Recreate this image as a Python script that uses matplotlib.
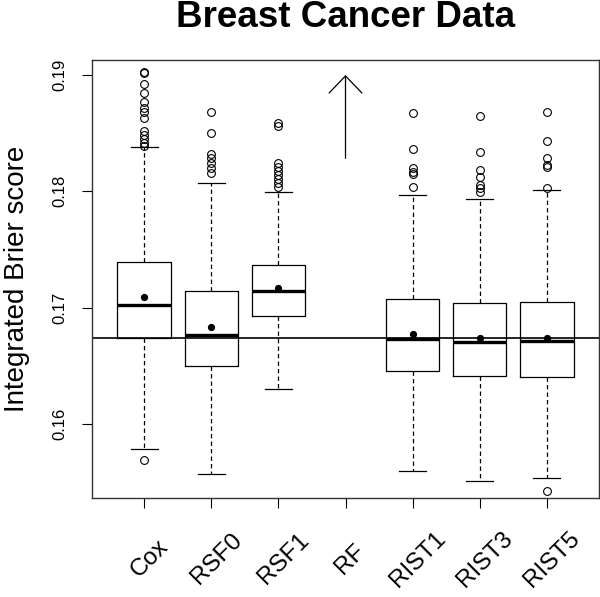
import matplotlib
matplotlib.use('Agg')
import matplotlib.pyplot as plt
import matplotlib.transforms as mtransforms

plt.rcParams['font.family'] = ['Liberation Sans', 'DejaVu Sans']

# 各方法的箱线图统计量
methods = ['Cox', 'RSF0', 'RSF1', 'RF', 'RIST1', 'RIST3', 'RIST5']
q1 = [0.16741, 0.16498, 0.16925, None, 0.16455, 0.16409, 0.16400]
med = [0.17022, 0.16767, 0.17143, None, 0.16730, 0.16702, 0.16710]
q3 = [0.17395, 0.17145, 0.17366, None, 0.17074, 0.17042, 0.17051]
whislo = [0.15782, 0.15569, 0.16297, None, 0.15598, 0.15507, 0.15537]
whishi = [0.18384, 0.18074, 0.17997, None, 0.17971, 0.17934, 0.18009]
means = [0.17091, 0.16836, 0.17171, None, 0.16776, 0.16741, 0.16739]
fliers = [
    [0.19023, 0.19015, 0.18920, 0.18843, 0.18770, 0.18714, 0.18684, 0.18628,
     0.18521, 0.18484, 0.18450, 0.18413, 0.18390, 0.15690],
    [0.18684, 0.18504, 0.18321, 0.18284, 0.18241, 0.18203, 0.18160],
    [0.18585, 0.18561, 0.18241, 0.18212, 0.18177, 0.18140, 0.18103, 0.18069, 0.18040],
    [],
    [0.18671, 0.18364, 0.18203, 0.18169, 0.18146, 0.18037],
    [0.18647, 0.18335, 0.18183, 0.18126, 0.18054, 0.18026, 0.17997],
    [0.18684, 0.18435, 0.18284, 0.18226, 0.18212, 0.18031, 0.15420],
]
ref_line = 0.16741
# RF 超出范围，用箭头表示
rf_arrow_tip = 0.19
rf_arrow_base = 0.18284

fig = plt.figure(figsize=(6.0, 5.97), dpi=100)
ax = fig.add_axes([92 / 600, 99 / 597, 507 / 600, 438 / 597])

stats = []
positions = []
for i, name in enumerate(methods):
    if q1[i] is None:
        continue
    stats.append(dict(label=name, q1=q1[i], med=med[i], q3=q3[i],
                      whislo=whislo[i], whishi=whishi[i], fliers=fliers[i],
                      mean=means[i]))
    positions.append(i + 1)

ax.bxp(stats, positions=positions, widths=0.8, showmeans=True,
       boxprops=dict(color='black', linewidth=0.9),
       medianprops=dict(color='black', linewidth=2.4, solid_capstyle='butt'),
       whiskerprops=dict(color='black', linewidth=0.9, linestyle=(0, (3.5, 2.5))),
       capprops=dict(color='black', linewidth=0.9),
       capwidths=0.4,
       flierprops=dict(marker='o', markerfacecolor='none', markeredgecolor='black',
                       markersize=5.6, markeredgewidth=0.8),
       meanprops=dict(marker='o', markerfacecolor='black', markeredgecolor='black',
                      markersize=4.2))

ax.axhline(ref_line, color='black', linewidth=1.2)

rf_x = methods.index('RF') + 1
ax.annotate('', xy=(rf_x, rf_arrow_tip), xytext=(rf_x, rf_arrow_base),
            arrowprops=dict(arrowstyle='->,head_length=1.23,head_width=1.18',
                            color='black', linewidth=0.9, shrinkA=0, shrinkB=0,
                            mutation_scale=10))

ax.set_xlim(0.22, 7.78)
ax.set_ylim(0.15363, 0.19129)

ax.set_yticks([0.16, 0.17, 0.18, 0.19])
ax.set_yticklabels(['0.16', '0.17', '0.18', '0.19'], rotation=90, va='center',
                   fontsize=12)
ax.tick_params(axis='y', length=7, width=0.8, pad=11)

ax.set_xticks(range(1, len(methods) + 1))
ax.set_xticklabels([])
ax.tick_params(axis='x', length=7, width=0.8)

# 倾斜的 x 轴标签（居中对齐）
offset = mtransforms.ScaledTranslation(5 / 100, -61 / 100, fig.dpi_scale_trans)
trans = mtransforms.blended_transform_factory(ax.transData, ax.transAxes) + offset
for i, name in enumerate(methods):
    ax.text(i + 1, 0, name, transform=trans, rotation=45, ha='center',
            va='center', rotation_mode='anchor', fontsize=17.5)

for sp in ax.spines.values():
    sp.set_linewidth(1.0)
    sp.set_color('#333333')

ax.set_ylabel('Integrated Brier score', fontsize=20, labelpad=16)
fig.text((92 + 599) / 2 / 600, 1 - 27 / 597, 'Breast Cancer Data',
         ha='center', va='baseline', fontsize=26.5, fontweight='bold')

fig.savefig('out.png', dpi=100)
